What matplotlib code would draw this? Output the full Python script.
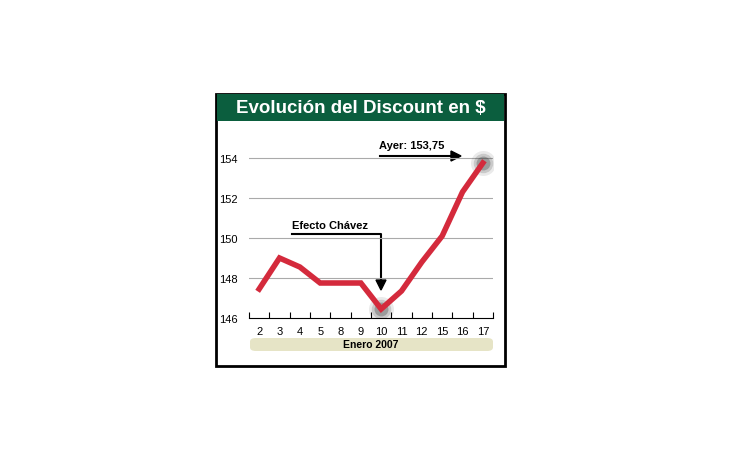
import matplotlib
matplotlib.use("Agg")
import matplotlib.pyplot as plt
from matplotlib.patches import Rectangle, FancyBboxPatch

days = ["2", "3", "4", "5", "8", "9", "10", "11", "12", "15", "16", "17"]
values = [147.45, 149.0, 148.55, 147.75, 147.75, 147.75, 146.45, 147.35, 148.8, 150.1, 152.3, 153.75]
yticks = [146, 148, 150, 152, 154]

W, H = 730, 460
fig = plt.figure(figsize=(W/100, H/100), dpi=100)
fig.patch.set_facecolor("white")

def px(x, y):
    return x / W, 1 - y / H

# outer box
x0, y0 = px(216, 367)
fig.patches.append(Rectangle((x0, y0), 289/W, 272/H, transform=fig.transFigure,
                             facecolor="white", edgecolor="black", lw=2, zorder=0))
# title bar
x0, y0 = px(217, 122)
fig.patches.append(Rectangle((x0, y0), 287/W, 27/H, transform=fig.transFigure,
                             facecolor="#0b5e3e", edgecolor="none", zorder=1))
fig.text(*px(361, 109), "Evolución del Discount en $", color="white", fontsize=13.5,
         fontweight="bold", ha="center", va="center", family="Liberation Sans")
# Enero bar
x0, y0 = px(250, 352)
fig.patches.append(FancyBboxPatch((x0, y0), 243/W, 13/H, boxstyle="round,pad=0,rounding_size=0.008",
                                  transform=fig.transFigure, facecolor="#e6e4c6", edgecolor="none"))
fig.text(*px(371, 345.5), "Enero 2007", fontsize=7.5, fontweight="bold", ha="center", va="center",
         family="Liberation Sans")

ax = fig.add_axes([249/W, (H-319)/H, 244/W, 194/H])
ax.set_zorder(5)
ax.set_facecolor("none")
x = list(range(len(days)))
ax.set_xlim(-0.5, len(days) - 0.5)
ax.set_ylim(146, 146 + 194/20)
for v in yticks[1:]:
    ax.axhline(v, color="#aaaaaa", lw=0.8, zorder=1)
for i in (6, 11):
    for r, a in ((18, 0.1), (14, 0.18), (10, 0.3)):
        ax.scatter([x[i]], [values[i]], s=r**2, color="#333333", alpha=a, lw=0, zorder=2)
ax.plot(x, values, color="#d42a3c", lw=4, solid_joinstyle="miter", zorder=3)
for s in ["top", "right", "left"]:
    ax.spines[s].set_visible(False)
ax.spines["bottom"].set_color("black")
ax.set_yticks(yticks)
ax.set_yticklabels([str(v) for v in yticks], fontsize=8, family="Liberation Sans")
ax.tick_params(axis="y", length=0, pad=8)
ax.set_xticks([i - 0.5 for i in range(len(days) + 1)], minor=False)
ax.set_xticklabels([""] * (len(days) + 1))
ax.tick_params(axis="x", direction="in", length=4, color="black")
ax.set_xticks(x, minor=True)
ax.set_xticklabels(days, minor=True, fontsize=8, family="Liberation Sans")
ax.tick_params(axis="x", which="minor", length=0, pad=6)

# annotations
fig.text(*px(379, 146), "Ayer: 153,75", fontsize=8, fontweight="bold", va="center", family="Liberation Sans")
fig.add_artist(plt.Line2D(*zip(px(380, 157), px(452, 157)), color="black", lw=1.5, transform=fig.transFigure))
fig.patches.append(plt.Polygon([px(451, 152), px(461, 157), px(451, 162)], closed=True,
                               transform=fig.transFigure, color="black"))
fig.text(*px(292, 226), "Efecto Chávez", fontsize=8, fontweight="bold", va="center", family="Liberation Sans")
fig.add_artist(plt.Line2D(*zip(px(292, 235), px(381, 235), px(381, 283)), color="black", lw=1.5,
                          transform=fig.transFigure))
fig.patches.append(plt.Polygon([px(376, 281), px(381, 291), px(386, 281)], closed=True,
                               transform=fig.transFigure, color="black"))

fig.savefig("out.png", dpi=100)
